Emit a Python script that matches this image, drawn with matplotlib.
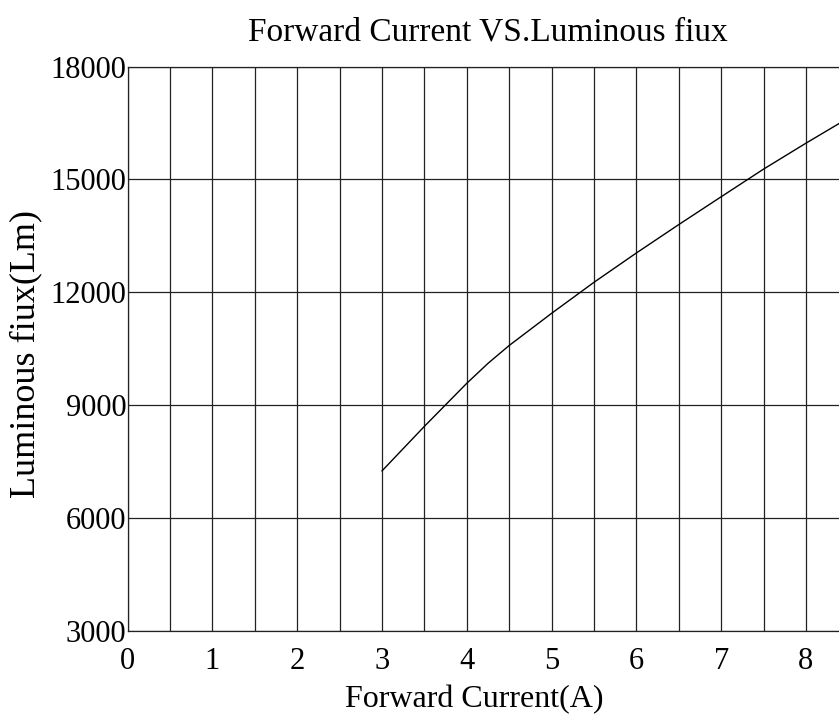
import matplotlib.pyplot as plt

# Данные кривой
current = [3.0, 3.5, 4.0, 4.25, 4.5, 5.0, 5.5, 6.0, 6.5, 7.0, 7.5, 8.0, 8.4]
flux = [7250, 8435, 9580, 10110, 10585, 11440, 12265, 13045, 13800, 14540, 15275, 15965, 16500]

x_ticks = [0, 1, 2, 3, 4, 5, 6, 7, 8]
x_minor = [0.5, 1.5, 2.5, 3.5, 4.5, 5.5, 6.5, 7.5]
y_ticks = [3000, 6000, 9000, 12000, 15000, 18000]

plt.rcParams['font.family'] = ['Liberation Serif', 'DejaVu Serif']

fig = plt.figure(figsize=(8.39, 7.27), dpi=100)
ax = fig.add_axes([0.1522, 0.1325, 1 - 0.1522, 0.7758])

ax.plot(current, flux, color='black', linewidth=1.0)

ax.set_xlim(0, 8.39)
ax.set_ylim(3000, 18000)
ax.set_xticks(x_ticks)
ax.set_xticks(x_minor, minor=True)
ax.set_yticks(y_ticks)
ax.set_yticklabels([str(v) for v in y_ticks])

ax.grid(True, which='both', axis='x', color='#222222', linewidth=0.9)
ax.grid(True, which='major', axis='y', color='#222222', linewidth=0.9)
ax.set_axisbelow(True)

ax.tick_params(axis='both', which='both', length=0, labelsize=22)
ax.tick_params(axis='y', pad=1)
ax.tick_params(axis='x', pad=12)

for side in ['left', 'bottom', 'top']:
    ax.spines[side].set_color('#222222')
    ax.spines[side].set_linewidth(0.9)
ax.spines['right'].set_visible(False)

# Подписи
fig.text(487.5 / 839, 1 - 32 / 727, 'Forward Current VS.Luminous fiux',
         ha='center', va='center', fontsize=24)
fig.text(474.5 / 839, 1 - 700 / 727, 'Forward Current(A)',
         ha='center', va='center', fontsize=23)
fig.text(26 / 839, 1 - 354 / 727, 'Luminous fiux(Lm)',
         ha='center', va='center', rotation=90, fontsize=26)

fig.savefig('out.png', dpi=100)
